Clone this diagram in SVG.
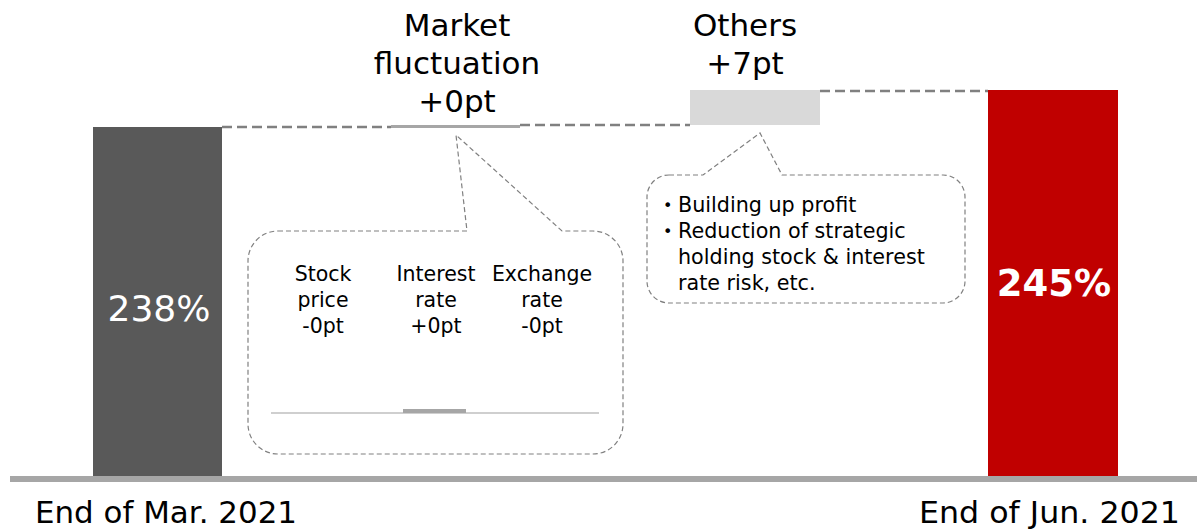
<svg xmlns="http://www.w3.org/2000/svg" width="1197" height="530" viewBox="0 0 1197 530">
  <style>
    text { font-family: "DejaVu Sans", Verdana, sans-serif; fill: #000; }
    .head { font-size: 31px; text-anchor: middle; }
    .axis { font-size: 31px; }
    .small { font-size: 20.5px; text-anchor: middle; }
    .note { font-size: 20.7px; }
    .bullet { font-size: 16px; }
    .link { stroke: #808080; stroke-width: 2.5; stroke-dasharray: 10 5; fill: none; }
    .callout { stroke: #808080; stroke-width: 1.2; stroke-dasharray: 5 3; fill: #fff; }
  </style>

  <!-- baseline -->
  <rect x="10" y="476" width="1187" height="6" fill="#a6a6a6"/>

  <!-- connectors between bars -->
  <g id="connectors">
    <line class="link" x1="222" y1="127" x2="391" y2="127"/>
    <line class="link" x1="520" y1="125" x2="690" y2="125"/>
    <line class="link" x1="820" y1="91" x2="988" y2="91"/>
  </g>

  <!-- starting ratio -->
  <g id="start">
    <rect x="93" y="127" width="129" height="349" fill="#595959"/>
    <text x="159" y="321" font-size="36" text-anchor="middle" style="fill:#fff">238%</text>
    <text class="axis" x="35" y="523" textLength="262" lengthAdjust="spacingAndGlyphs">End of Mar. 2021</text>
  </g>

  <!-- market fluctuation step -->
  <g id="market">
    <rect x="391" y="125" width="129" height="3" fill="#a6a6a6"/>
    <text class="head" x="457" y="36">Market</text>
    <text class="head" x="457" y="74">fluctuation</text>
    <text class="head" x="457" y="112">+0pt</text>
  </g>

  <!-- market breakdown callout -->
  <g id="market-detail">
    <path class="callout" d="M278,231 H467 L456,135 L562,231 H593 A30,30 0 0 1 623,261 V424 A30,30 0 0 1 593,454 H278 A30,30 0 0 1 248,424 V261 A30,30 0 0 1 278,231 Z"/>
    <text class="small" x="323" y="281">Stock</text>
    <text class="small" x="323" y="307">price</text>
    <text class="small" x="323" y="333">-0pt</text>
    <text class="small" x="436" y="281">Interest</text>
    <text class="small" x="436" y="307">rate</text>
    <text class="small" x="436" y="333">+0pt</text>
    <text class="small" x="542" y="281">Exchange</text>
    <text class="small" x="542" y="307">rate</text>
    <text class="small" x="542" y="333">-0pt</text>
    <line x1="271" y1="413" x2="599" y2="413" stroke="#bfbfbf" stroke-width="1.5"/>
    <rect x="403" y="409" width="63" height="4" fill="#a6a6a6"/>
  </g>

  <!-- others step -->
  <g id="others">
    <rect x="690" y="90" width="130" height="35" fill="#d9d9d9"/>
    <text class="head" x="745" y="36">Others</text>
    <text class="head" x="745" y="74">+7pt</text>
  </g>

  <!-- others breakdown callout -->
  <g id="others-detail">
    <path class="callout" d="M669,175 H703 L760,133 L782,175 H943 A22,22 0 0 1 965,197 V281 A22,22 0 0 1 943,303 H669 A22,22 0 0 1 647,281 V197 A22,22 0 0 1 669,175 Z"/>
    <text class="bullet" x="663" y="211">•</text>
    <text class="note" x="678" y="212">Building up profit</text>
    <text class="bullet" x="663" y="237">•</text>
    <text class="note" x="678" y="238">Reduction of strategic</text>
    <text class="note" x="678" y="264">holding stock &amp; interest</text>
    <text class="note" x="678" y="290">rate risk, etc.</text>
  </g>

  <!-- ending ratio -->
  <g id="end">
    <rect x="988" y="90" width="130" height="386" fill="#c00000"/>
    <text x="1054" y="296" font-size="37" font-weight="bold" text-anchor="middle" style="fill:#fff">245%</text>
    <text class="axis" x="919" y="523" textLength="261" lengthAdjust="spacingAndGlyphs">End of Jun. 2021</text>
  </g>
</svg>
